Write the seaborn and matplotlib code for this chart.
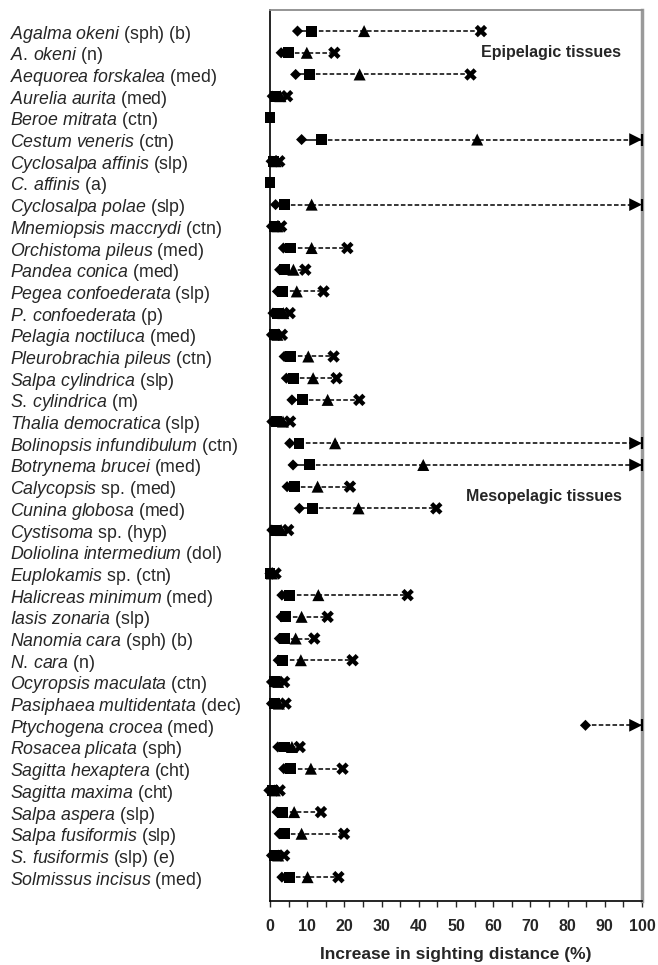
import numpy as np
import pandas as pd
import seaborn as sns
import matplotlib.pyplot as plt
from matplotlib.markers import MarkerStyle
from matplotlib.transforms import Affine2D

nan = np.nan

# italic part of each name, then the plain group tag
taxa = ['Agalma okeni', 'A. okeni', 'Aequorea forskalea', 'Aurelia aurita',
        'Beroe mitrata', 'Cestum veneris', 'Cyclosalpa affinis', 'C. affinis',
        'Cyclosalpa polae', 'Mnemiopsis maccrydi', 'Orchistoma pileus',
        'Pandea conica', 'Pegea confoederata', 'P. confoederata',
        'Pelagia noctiluca', 'Pleurobrachia pileus', 'Salpa cylindrica',
        'S. cylindrica', 'Thalia democratica', 'Bolinopsis infundibulum',
        'Botrynema brucei', 'Calycopsis', 'Cunina globosa', 'Cystisoma',
        'Doliolina intermedium', 'Euplokamis', 'Halicreas minimum',
        'Iasis zonaria', 'Nanomia cara', 'N. cara', 'Ocyropsis maculata',
        'Pasiphaea multidentata', 'Ptychogena crocea', 'Rosacea plicata',
        'Sagitta hexaptera', 'Sagitta maxima', 'Salpa aspera',
        'Salpa fusiformis', 'S. fusiformis', 'Solmissus incisus']
tags = ['(sph) (b)', '(n)', '(med)', '(med)', '(ctn)', '(ctn)', '(slp)', '(a)',
        '(slp)', '(ctn)', '(med)', '(med)', '(slp)', '(p)', '(med)', '(ctn)',
        '(slp)', '(m)', '(slp)', '(ctn)', '(med)', 'sp. (med)', '(med)',
        'sp. (hyp)', '(dol)', 'sp. (ctn)', '(med)', '(slp)', '(sph) (b)', '(n)',
        '(ctn)', '(dec)', '(med)', '(sph)', '(cht)', '(cht)', '(slp)', '(slp)',
        '(slp) (e)', '(med)']

# increase in sighting distance (%) for the four conditions
diamond = [7.4, 3.0, 6.9, 0.6, nan, 8.5, 0.3, nan, 1.5, 0.4, 3.6, 2.6, 2.0, 0.8,
           0.4, 3.8, 4.4, 5.9, 0.5, 5.3, 6.2, 4.6, 7.9, 0.5, nan, 0, 3.2, 3.0,
           2.5, 2.2, 0.4, 0.4, 84.8, 2.1, 3.7, -0.3, 1.9, 2.5, 0.4, 3.2]
square = [11.2, 4.9, 10.5, 1.5, 0, 13.8, 1.0, 0, 3.8, 1.2, 5.6, 3.9, 3.4, 2.0,
          1.2, 5.6, 6.3, 8.7, 1.8, 7.8, 10.5, 6.5, 11.4, 1.5, nan, 0, 5.3, 4.2,
          3.8, 3.4, 1.2, 1.3, nan, 3.8, 5.6, 0.6, 3.4, 3.8, 1.2, 5.2]
triangle = [25.3, 9.9, 24.1, 2.8, nan, 55.7, 1.5, nan, 11.2, 2.0, 11.2, 6.3, 7.2,
            3.6, 2.0, 10.3, 11.6, 15.5, 3.5, 17.5, 41.2, 12.8, 23.8, 3.0, nan,
            0.5, 13.0, 8.5, 6.9, 8.3, 2.2, 2.4, nan, 5.9, 11.0, 1.3, 6.5, 8.5,
            2.2, 10.1]
cross = [56.7, 17.3, 53.9, 4.6, nan, nan, 2.5, nan, nan, 3.0, 20.8, 9.5, 14.4,
         5.3, 3.2, 17.1, 17.9, 24.0, 5.4, nan, nan, 21.5, 44.7, 4.9, nan, 1.5,
         37.0, 15.5, 11.9, 22.2, 3.8, 4.2, nan, 8.0, 19.5, 2.6, 13.7, 19.9,
         3.8, 18.4]
# rows whose values run past 100 %
off_scale = [False] * 40
for i in (5, 8, 19, 20, 32):
    off_scale[i] = True

rows = np.arange(len(taxa))
df = pd.DataFrame({'row': rows, 'diamond': diamond, 'square': square,
                   'triangle': triangle, 'cross': cross, 'off': off_scale})
df['start'] = df['square'].fillna(df['diamond'])
df['end'] = np.where(df['off'], 100.0, df['cross'])
arrows = df[df['off']].assign(cap=100.0)

sns.set_style('ticks')
plt.rcParams['font.family'] = ['Liberation Sans', 'DejaVu Sans']
plt.rcParams['mathtext.fontset'] = 'custom'
plt.rcParams['mathtext.it'] = 'Liberation Sans:italic'
plt.rcParams['mathtext.rm'] = 'Liberation Sans'

fig = plt.figure(figsize=(6.58, 9.65), dpi=100)
ax = fig.add_axes([0.4103, 0.0663, 0.5654, 0.9233])

# connecting lines
ax.hlines(df['row'], df['diamond'], df['square'], color='black', lw=1.1)
ax.hlines(df['row'], df['start'], df['end'], color='black', lw=1.1,
          linestyles=(0, (3, 1.5)))

kw = dict(color='black', edgecolor='none', linewidth=0, legend=False,
          clip_on=False, ax=ax)
sns.scatterplot(data=df, x='cross', y='row', marker='X', s=80, zorder=3, **kw)
sns.scatterplot(data=df, x='triangle', y='row', marker='^', s=75, zorder=4, **kw)
sns.scatterplot(data=df, x='diamond', y='row', marker='D', s=32, zorder=5, **kw)
sns.scatterplot(data=df, x='square', y='row', marker='s', s=62, zorder=6, **kw)

# arrowheads for values beyond the axis
tip = MarkerStyle('>', transform=Affine2D().translate(-0.5, 0))
sns.scatterplot(data=arrows, x='cap', y='row', marker=tip, s=85, zorder=6, **kw)
sns.scatterplot(data=arrows, x='cap', y='row', marker='|', s=80,
                color='black', linewidth=1.6, legend=False, clip_on=False,
                zorder=6, ax=ax)

ax.set_xlim(0, 100)
ax.set_ylim(len(taxa) - 1 + 1.1, -0.97)
ax.set_xticks(np.arange(0, 101, 10))
ax.set_xticks(np.arange(5, 100, 10), minor=True)
ax.tick_params(axis='x', which='both', direction='out', length=4, width=1,
               pad=9, labelsize=11.5)
for t in ax.get_xticklabels():
    t.set_fontweight('bold')

labels = ['$\\mathit{' + t.replace('. ', '.\\,').replace(' ', '\\ ') + '}$ ' + g
          for t, g in zip(taxa, tags)]
ax.set_yticks(rows)
ax.set_yticklabels(labels, fontsize=12.8, ha='left')
ax.tick_params(axis='y', length=0, pad=187)

ax.set_xlabel('Increase in sighting distance (%)', fontsize=12.5,
              fontweight='bold', labelpad=9)
ax.set_ylabel('')

ax.text(94.4, 1, 'Epipelagic tissues', ha='right', va='center',
        fontsize=11.5, fontweight='bold')
ax.text(94.5, 21.46, 'Mesopelagic tissues', ha='right', va='center',
        fontsize=11.5, fontweight='bold')

for side in ('left', 'bottom'):
    ax.spines[side].set_color('black')
    ax.spines[side].set_linewidth(1.2)
ax.spines['top'].set_color('#8c8c8c')
ax.spines['top'].set_linewidth(1.3)
ax.spines['right'].set_color('#9a9a9a')
ax.spines['right'].set_linewidth(2.5)
ax.spines['top'].set_visible(True)
ax.spines['right'].set_visible(True)

fig.savefig('out.png', dpi=100)
